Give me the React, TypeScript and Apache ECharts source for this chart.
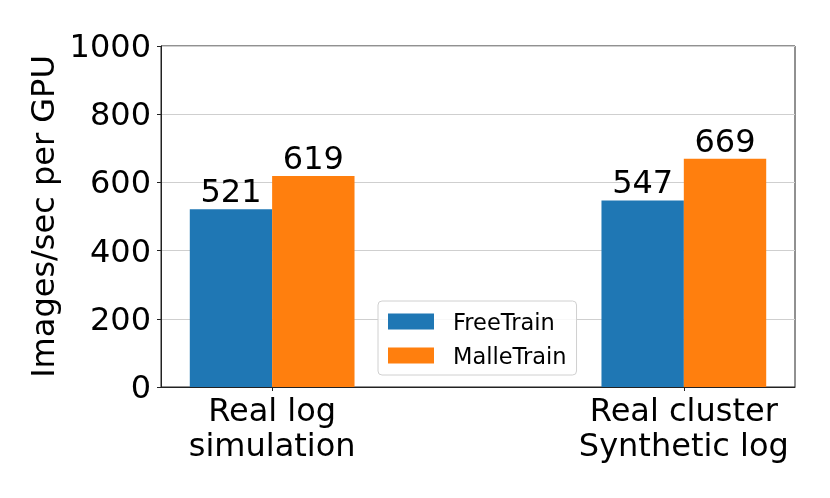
import React, { useEffect, useRef } from "react";
import * as echarts from "echarts";

const categories = ["Real log\nsimulation", "Real cluster\nSynthetic log"];
const categoryPositions = [0, 1];
const seriesNames = ["FreeTrain", "MalleTrain"];
const freeTrain = [521, 547];
const malleTrain = [619, 669];
const barOffsets = [-0.1, 0.1];
const colors = ["#1f77b4", "#ff7f0e"];
const yTicks = [0, 200, 400, 600, 800, 1000];

const FONT = "DejaVu Sans";

export default function App() {
  const ref = useRef<HTMLDivElement>(null);
  useEffect(() => {
    if (!ref.current) return;
    const chart = echarts.init(ref.current, undefined, { renderer: "svg" });
    const values = [freeTrain, malleTrain];
    chart.setOption({
      animation: false,
      textStyle: { fontFamily: FONT },
      grid: {
        left: 161,
        right: 35,
        top: 46,
        bottom: 111,
        show: true,
        borderColor: "#222",
        borderWidth: 1,
        backgroundColor: "transparent",
      },
      legend: {
        data: seriesNames,
        orient: "vertical",
        left: 378,
        top: 301,
        itemWidth: 46,
        itemHeight: 16,
        itemGap: 11,
        padding: [9, 10, 8, 10],
        backgroundColor: "rgba(255,255,255,0.85)",
        borderColor: "#d0d0d0",
        borderWidth: 1,
        borderRadius: 4,
        icon: "rect",
        textStyle: {
          fontFamily: FONT,
          fontSize: 22.5,
          color: "#000",
          padding: [0, 0, 0, 14],
          lineHeight: 20,
        },
      },
      xAxis: {
        type: "value",
        min: -0.27,
        max: 1.27,
        splitLine: { show: false },
        axisLine: { show: true, onZero: false, lineStyle: { color: "#222" } },
        axisTick: {
          show: true,
          customValues: categoryPositions,
          length: 4,
          lineStyle: { color: "#222" },
        },
        axisLabel: {
          customValues: categoryPositions,
          formatter: (v: number) => {
            const i = categoryPositions.indexOf(Math.round(v));
            return i >= 0 ? categories[i] : "";
          },
          fontFamily: FONT,
          fontSize: 32,
          lineHeight: 35,
          color: "#000",
          margin: 5,
        },
      },
      yAxis: {
        type: "value",
        min: yTicks[0],
        max: yTicks[yTicks.length - 1],
        interval: 200,
        name: "Images/sec per GPU",
        nameLocation: "middle",
        nameGap: 96,
        nameTextStyle: { fontFamily: FONT, fontSize: 32, color: "#000" },
        axisLine: { show: true, onZero: false, lineStyle: { color: "#222" } },
        axisTick: { show: true, length: 4, lineStyle: { color: "#222" } },
        axisLabel: {
          fontFamily: FONT,
          fontSize: 32,
          color: "#000",
          margin: 10,
          formatter: (v: number) => String(v),
        },
        splitLine: { show: true, lineStyle: { color: "#cfcfcf", width: 1 } },
      },
      series: seriesNames.map((name, s) => ({
        name,
        type: "bar",
        barWidth: 82.4,
        barGap: "-100%",
        itemStyle: { color: colors[s] },
        label: {
          show: true,
          position: "top",
          distance: 2,
          fontFamily: FONT,
          fontSize: 32,
          color: "#000",
          formatter: (p: any) => String(p.value[1]),
        },
        data: values[s].map((v, i) => [categoryPositions[i] + barOffsets[s], v]),
      })),
    });
    return () => chart.dispose();
  }, []);
  return (
    <div
      ref={ref}
      style={{ position: "fixed", left: 0, top: 0, width: 830, height: 498 }}
    />
  );
}
